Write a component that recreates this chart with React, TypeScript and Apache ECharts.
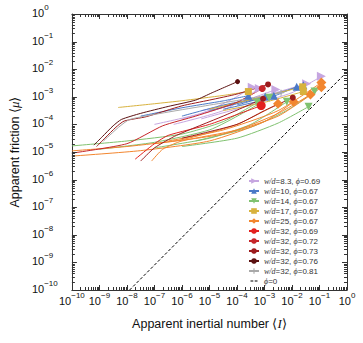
import React, { useEffect, useRef } from 'react';
import * as echarts from 'echarts';

type Pt = [number, number];

// Legend entries (groups of curves)
const legendNames = [
  'w/d=8.3, ϕ=0.69',
  'w/d=10, ϕ=0.67',
  'w/d=14, ϕ=0.67',
  'w/d=17, ϕ=0.67',
  'w/d=25, ϕ=0.67',
  'w/d=32, ϕ=0.69',
  'w/d=32, ϕ=0.72',
  'w/d=32, ϕ=0.73',
  'w/d=32, ϕ=0.76',
  'w/d=32, ϕ=0.81',
  'ϕ=0',
];

// Curves: [inertial number I, friction mu]
const curvesWd83: Pt[][] = [
  [[5.0e-6, 1.58e-4], [3.16e-4, 5.0e-4], [1e-2, 1.41e-3], [0.117, 5.5e-3]],
  [[1e-7, 1e-4], [5.0e-6, 2.51e-4], [6.3e-5, 7.9e-4], [3.6e-4, 2.2e-3]],
  [[5.0e-7, 1e-4], [3.16e-5, 3.16e-4], [6.5e-4, 2.0e-3]],
  [[1e-6, 1.58e-4], [6.3e-5, 5.0e-4], [2.6e-3, 1.82e-3]],
  [[5.0e-6, 3.16e-4], [3.16e-4, 7.9e-4], [3.4e-2, 3.0e-3]],
];
const curvesWd10: Pt[][] = [
  [[3.16e-8, 2.0e-4], [1e-6, 4.0e-4], [3.16e-5, 7.1e-4], [2.6e-4, 1.1e-3]],
  [[1e-6, 2.0e-4], [3.16e-5, 5.0e-4], [1.07e-3, 1.02e-3]],
  [[1e-5, 3.16e-4], [1.58e-4, 6.3e-4], [2.2e-3, 1.1e-3]],
  [[3.16e-5, 3.55e-4], [1e-3, 7.9e-4], [1.48e-2, 2.3e-3]],
  [[1e-4, 5.0e-4], [1.58e-3, 1.12e-3], [2.6e-2, 2.6e-3]],
];
const curvesWd14: Pt[][] = [
  [[1e-10, 1.66e-5], [1e-8, 2.51e-5], [1e-6, 4.47e-5], [3.16e-5, 1.26e-4], [5.5e-4, 6.2e-4]],
  [[1e-9, 1.26e-5], [1e-7, 2.24e-5], [1e-5, 6.3e-5], [1.58e-4, 2.51e-4], [1.48e-3, 9.3e-4]],
  [[1e-7, 1.41e-5], [1e-5, 3.16e-5], [3.16e-4, 1e-4], [6.5e-3, 6.6e-4]],
  [[1e-6, 1.58e-5], [1e-4, 3.16e-5], [3.16e-3, 1.12e-4], [4.0e-2, 4.4e-4]],
  [[3.16e-6, 2.51e-5], [3.16e-4, 7.9e-5], [6.3e-3, 3.16e-4], [6.6e-2, 1.55e-3]],
];
const curvesWd17: Pt[][] = [
  [[4.8e-9, 4.1e-4], [1e-7, 5.6e-4], [1e-6, 7.2e-4], [3.16e-5, 1.12e-3], [2.6e-4, 1.55e-3]],
  [[1e-5, 3.55e-4], [3.16e-4, 7.9e-4], [2.45e-2, 2.3e-3]],
  [[3.16e-5, 3.16e-4], [1e-3, 6.3e-4], [2.6e-2, 1.55e-3]],
];
const curvesWd25: Pt[][] = [
  [[1e-10, 1.1e-5], [1e-8, 1.58e-5], [1e-6, 2.8e-5], [1e-4, 1e-4], [3.1e-3, 5.6e-4]],
  [[1e-10, 7.1e-6], [3.16e-8, 1.12e-5], [1e-5, 2.51e-5], [1e-3, 1.26e-4], [1.15e-2, 6.6e-4]],
  [[7.9e-8, 4.7e-6], [2.0e-7, 1.26e-5], [1e-6, 2.51e-5], [1e-4, 6.3e-5], [3.16e-3, 2.51e-4], [4.7e-2, 1.2e-3]],
  [[3.16e-7, 2.51e-5], [3.16e-5, 6.3e-5], [3.16e-3, 3.16e-4], [0.117, 3.3e-3]],
  [[1e-7, 2.0e-5], [3.16e-5, 4.47e-5], [3.16e-3, 2.0e-4], [0.117, 2.2e-3]],
];
const curvesPhi069: Pt[][] = [
  [[2.0e-8, 5.5e-6], [1e-7, 2.0e-5], [3.16e-7, 4.0e-5], [1e-5, 1e-4], [7.6e-4, 4.8e-4]],
];
const curvesPhi072: Pt[][] = [
  [[1e-10, 9.1e-6], [1e-8, 2.0e-5], [2e-7, 8.9e-5], [3.16e-6, 2.0e-4], [1e-4, 6.3e-4], [8.3e-4, 2.0e-3]],
];
const curvesPhi073: Pt[][] = [
  [[3.16e-8, 4.7e-6], [1e-7, 1.41e-5], [6.3e-7, 4.0e-5], [3.16e-5, 2.0e-4], [8.9e-4, 8.5e-4]],
  [[1e-6, 3.16e-5], [1e-4, 1e-4], [1e-3, 3.16e-4], [1.07e-2, 9.3e-4]],
  [[7.9e-10, 1.58e-5], [1.58e-9, 3.16e-5], [3.98e-9, 7.9e-5], [7.9e-9, 1.32e-4], [5.0e-8, 1.9e-4], [1e-6, 4.7e-4], [1e-5, 7.6e-4], [1e-4, 1.26e-3], [1.35e-3, 2.8e-3]],
];
const curvesPhi076: Pt[][] = [
  [[6.3e-10, 1.78e-5], [1.26e-9, 3.55e-5], [3.16e-9, 8.9e-5], [6.3e-9, 1.51e-4], [3.16e-8, 2.51e-4], [3.16e-7, 4.47e-4], [3.16e-6, 7.6e-4], [1.26e-5, 1.41e-3], [1.05e-4, 3.55e-3]],
];
const curvesPhi081: Pt[][] = [
  [[1.41e-9, 2.51e-5], [5.0e-9, 7.9e-5], [1.26e-8, 1.51e-4], [3.16e-7, 2.8e-4], [1e-5, 5.0e-4], [3.16e-4, 8.9e-4], [4.0e-3, 1.41e-3]],
];
const phi0Line: Pt[] = [[1.25e-8, 1e-10], [1, 8e-3]];

const tickDecades = [-10, -9, -8, -7, -6, -5, -4, -3, -2, -1, 0];

const FONT = '"Liberation Sans", Arial, sans-serif';
const plusPath = 'path://M4,0 L6,0 L6,4 L10,4 L10,6 L6,6 L6,10 L4,10 L4,6 L0,6 L0,4 L4,4 Z';
const dashIcon = 'path://M0,0 L0.01,0 L0.01,0.01 Z M0,10 L0.01,10 L0.01,9.99 Z M0,4.2 L4,4.2 L4,5.8 L0,5.8 Z M6,4.2 L10,4.2 L10,5.8 L6,5.8 Z';

const groupStyles = [
  { color: '#c6a6e0', symbol: 'triangle', rotate: -90, size: 9 },
  { color: '#4a79c6', symbol: 'triangle', rotate: 0, size: 8 },
  { color: '#80c270', symbol: 'triangle', rotate: 180, size: 8 },
  { color: '#d8b23e', symbol: 'rect', rotate: 0, size: 7 },
  { color: '#f2862f', symbol: 'diamond', rotate: 0, size: 10 },
  { color: '#e3211f', symbol: 'circle', rotate: 0, size: 9 },
  { color: '#c6262a', symbol: 'circle', rotate: 0, size: 7 },
  { color: '#9c1b1d', symbol: 'circle', rotate: 0, size: 6 },
  { color: '#5b1111', symbol: 'circle', rotate: 0, size: 5 },
  { color: '#a9a9a9', symbol: plusPath, rotate: 0, size: 6 },
];
const groupCurves = [
  curvesWd83, curvesWd10, curvesWd14, curvesWd17, curvesWd25,
  curvesPhi069, curvesPhi072, curvesPhi073, curvesPhi076, curvesPhi081,
];

function expLabel(v: number) {
  const e = Math.round(Math.log10(v));
  const s = e < 0 ? '−' + -e : String(e);
  return `{b|10}{s|${s}}`;
}

const labelRich = {
  b: { fontSize: 11, lineHeight: 11, verticalAlign: 'bottom', fontFamily: FONT, color: '#111' },
  s: { fontSize: 8, lineHeight: 8, padding: [0, 0, 7, 0], verticalAlign: 'bottom', fontFamily: FONT, color: '#111' },
};

export default function App() {
  const ref = useRef<HTMLDivElement>(null);
  useEffect(() => {
    if (!ref.current) return;
    const chart = echarts.init(ref.current, null, { renderer: 'svg' });

    const minorTicks: number[] = [];
    for (let i = 0; i < tickDecades.length - 1; i++) {
      const base = Math.pow(10, tickDecades[i]);
      for (let m = 2; m <= 9; m++) minorTicks.push(m * base);
    }

    const series: any[] = [];
    groupCurves.forEach((curves, gi) => {
      const st = groupStyles[gi];
      curves.forEach((c) => {
        series.push({
          type: 'line',
          name: legendNames[gi],
          data: c.map((p, i) => (i === c.length - 1 ? { value: p } : { value: p, symbol: 'none' })),
          symbol: st.symbol,
          symbolSize: st.size,
          symbolRotate: st.rotate,
          showSymbol: true,
          smooth: 0.2,
          lineStyle: { width: 1, color: st.color },
          itemStyle: { color: st.color, borderWidth: 0 },
          emphasis: { disabled: true },
          z: 3,
        });
      });
    });
    series.push({
      type: 'line',
      name: legendNames[10],
      data: phi0Line,
      symbol: 'none',
      lineStyle: { width: 1, color: '#000', type: [3, 2] },
      itemStyle: { color: '#000' },
      z: 4,
    });
    const tickStyle = { stroke: '#333', lineWidth: 1 };
    // major + minor ticks on all four sides
    const majorTicks = tickDecades.map((e) => Math.pow(10, e));
    const allTicks = [
      ...minorTicks.map((v) => [v, 3]),
      ...majorTicks.map((v) => [v, 5]),
    ];
    series.push({
      type: 'custom',
      silent: true,
      data: allTicks.map((t) => [t[0], 1e-5, t[1]]),
      encode: { x: 0, y: 1 },
      renderItem: (params: any, api: any) => {
        const cs = params.coordSys;
        const len = api.value(2);
        const px = Math.round(api.coord([api.value(0), 1e-5])[0]) + 0.5;
        const yb = cs.y + cs.height;
        return {
          type: 'group',
          children: [
            { type: 'line', shape: { x1: px, y1: yb, x2: px, y2: yb - len }, style: tickStyle },
            { type: 'line', shape: { x1: px, y1: cs.y, x2: px, y2: cs.y + len }, style: tickStyle },
          ],
        };
      },
      z: 5,
    });
    series.push({
      type: 'custom',
      silent: true,
      data: allTicks.map((t) => [1e-5, t[0], t[1]]),
      encode: { x: 0, y: 1 },
      renderItem: (params: any, api: any) => {
        const cs = params.coordSys;
        const len = api.value(2);
        const py = Math.round(api.coord([1e-5, api.value(1)])[1]) + 0.5;
        const xr = cs.x + cs.width;
        return {
          type: 'group',
          children: [
            { type: 'line', shape: { x1: cs.x, y1: py, x2: cs.x + len, y2: py }, style: tickStyle },
            { type: 'line', shape: { x1: xr, y1: py, x2: xr - len, y2: py }, style: tickStyle },
          ],
        };
      },
      z: 5,
    });

    const axisCommon = {
      type: 'log',
      logBase: 10,
      min: 1e-10,
      max: 1,
      interval: 1,
      axisLine: { show: true, onZero: false, lineStyle: { color: '#333', width: 1 } },
      axisTick: { show: false },
      splitLine: { show: false },
      minorTick: { show: false },
    };

    chart.setOption({
      animation: false,
      grid: { left: 68, right: 16, top: 14, bottom: 53 },
      legend: {
        orient: 'vertical',
        left: 248,
        top: 176,
        padding: 0,
        itemWidth: 10,
        itemHeight: 7,
        itemGap: 0,
        data: legendNames.map((n, i) =>
          i === 10 ? { name: n, icon: dashIcon, itemStyle: { color: '#000' } } : { name: n }
        ),
        selectedMode: false,
        formatter: (n: string) => n.replace('w/d', '{i|w/d}').replace('ϕ', '{i|ϕ}'),
        textStyle: {
          fontSize: 8,
          lineHeight: 10,
          fontFamily: FONT,
          color: '#333',
          rich: {
            i: { fontSize: 8, lineHeight: 10, fontStyle: 'italic', fontFamily: '"Liberation Serif", serif', color: '#333' },
          },
        },
      },
      xAxis: [
        {
          ...axisCommon,
          position: 'bottom',
          axisLabel: { formatter: expLabel, rich: labelRich, margin: 5, showMinLabel: true, showMaxLabel: true },
          name: 'Apparent inertial number ⟨{i|I}⟩',
          nameLocation: 'middle',
          nameGap: 27,
          nameTextStyle: {
            fontSize: 12.5,
            fontFamily: FONT,
            color: '#111',
            rich: { i: { fontSize: 13, fontStyle: 'italic', fontFamily: '"Liberation Serif", serif', color: '#111' } },
          },
        },
        { ...axisCommon, position: 'top', axisLabel: { show: false } },
      ],
      yAxis: [
        {
          ...axisCommon,
          position: 'left',
          axisLabel: { formatter: expLabel, rich: labelRich, margin: 40, align: 'left', padding: [0, 0, 2, 0], showMinLabel: true, showMaxLabel: true },
          name: 'Apparent friction ⟨{i|μ}⟩',
          nameLocation: 'middle',
          nameGap: 46,
          nameTextStyle: {
            fontSize: 12.5,
            fontFamily: FONT,
            color: '#111',
            rich: { i: { fontSize: 13, fontStyle: 'italic', fontFamily: '"Liberation Serif", serif', color: '#111' } },
          },
        },
        { ...axisCommon, position: 'right', axisLabel: { show: false } },
      ],
      series,
    });
    return () => chart.dispose();
  }, []);
  return <div ref={ref} style={{ width: 363, height: 343, position: 'absolute', left: 0, top: 0 }} />;
}
